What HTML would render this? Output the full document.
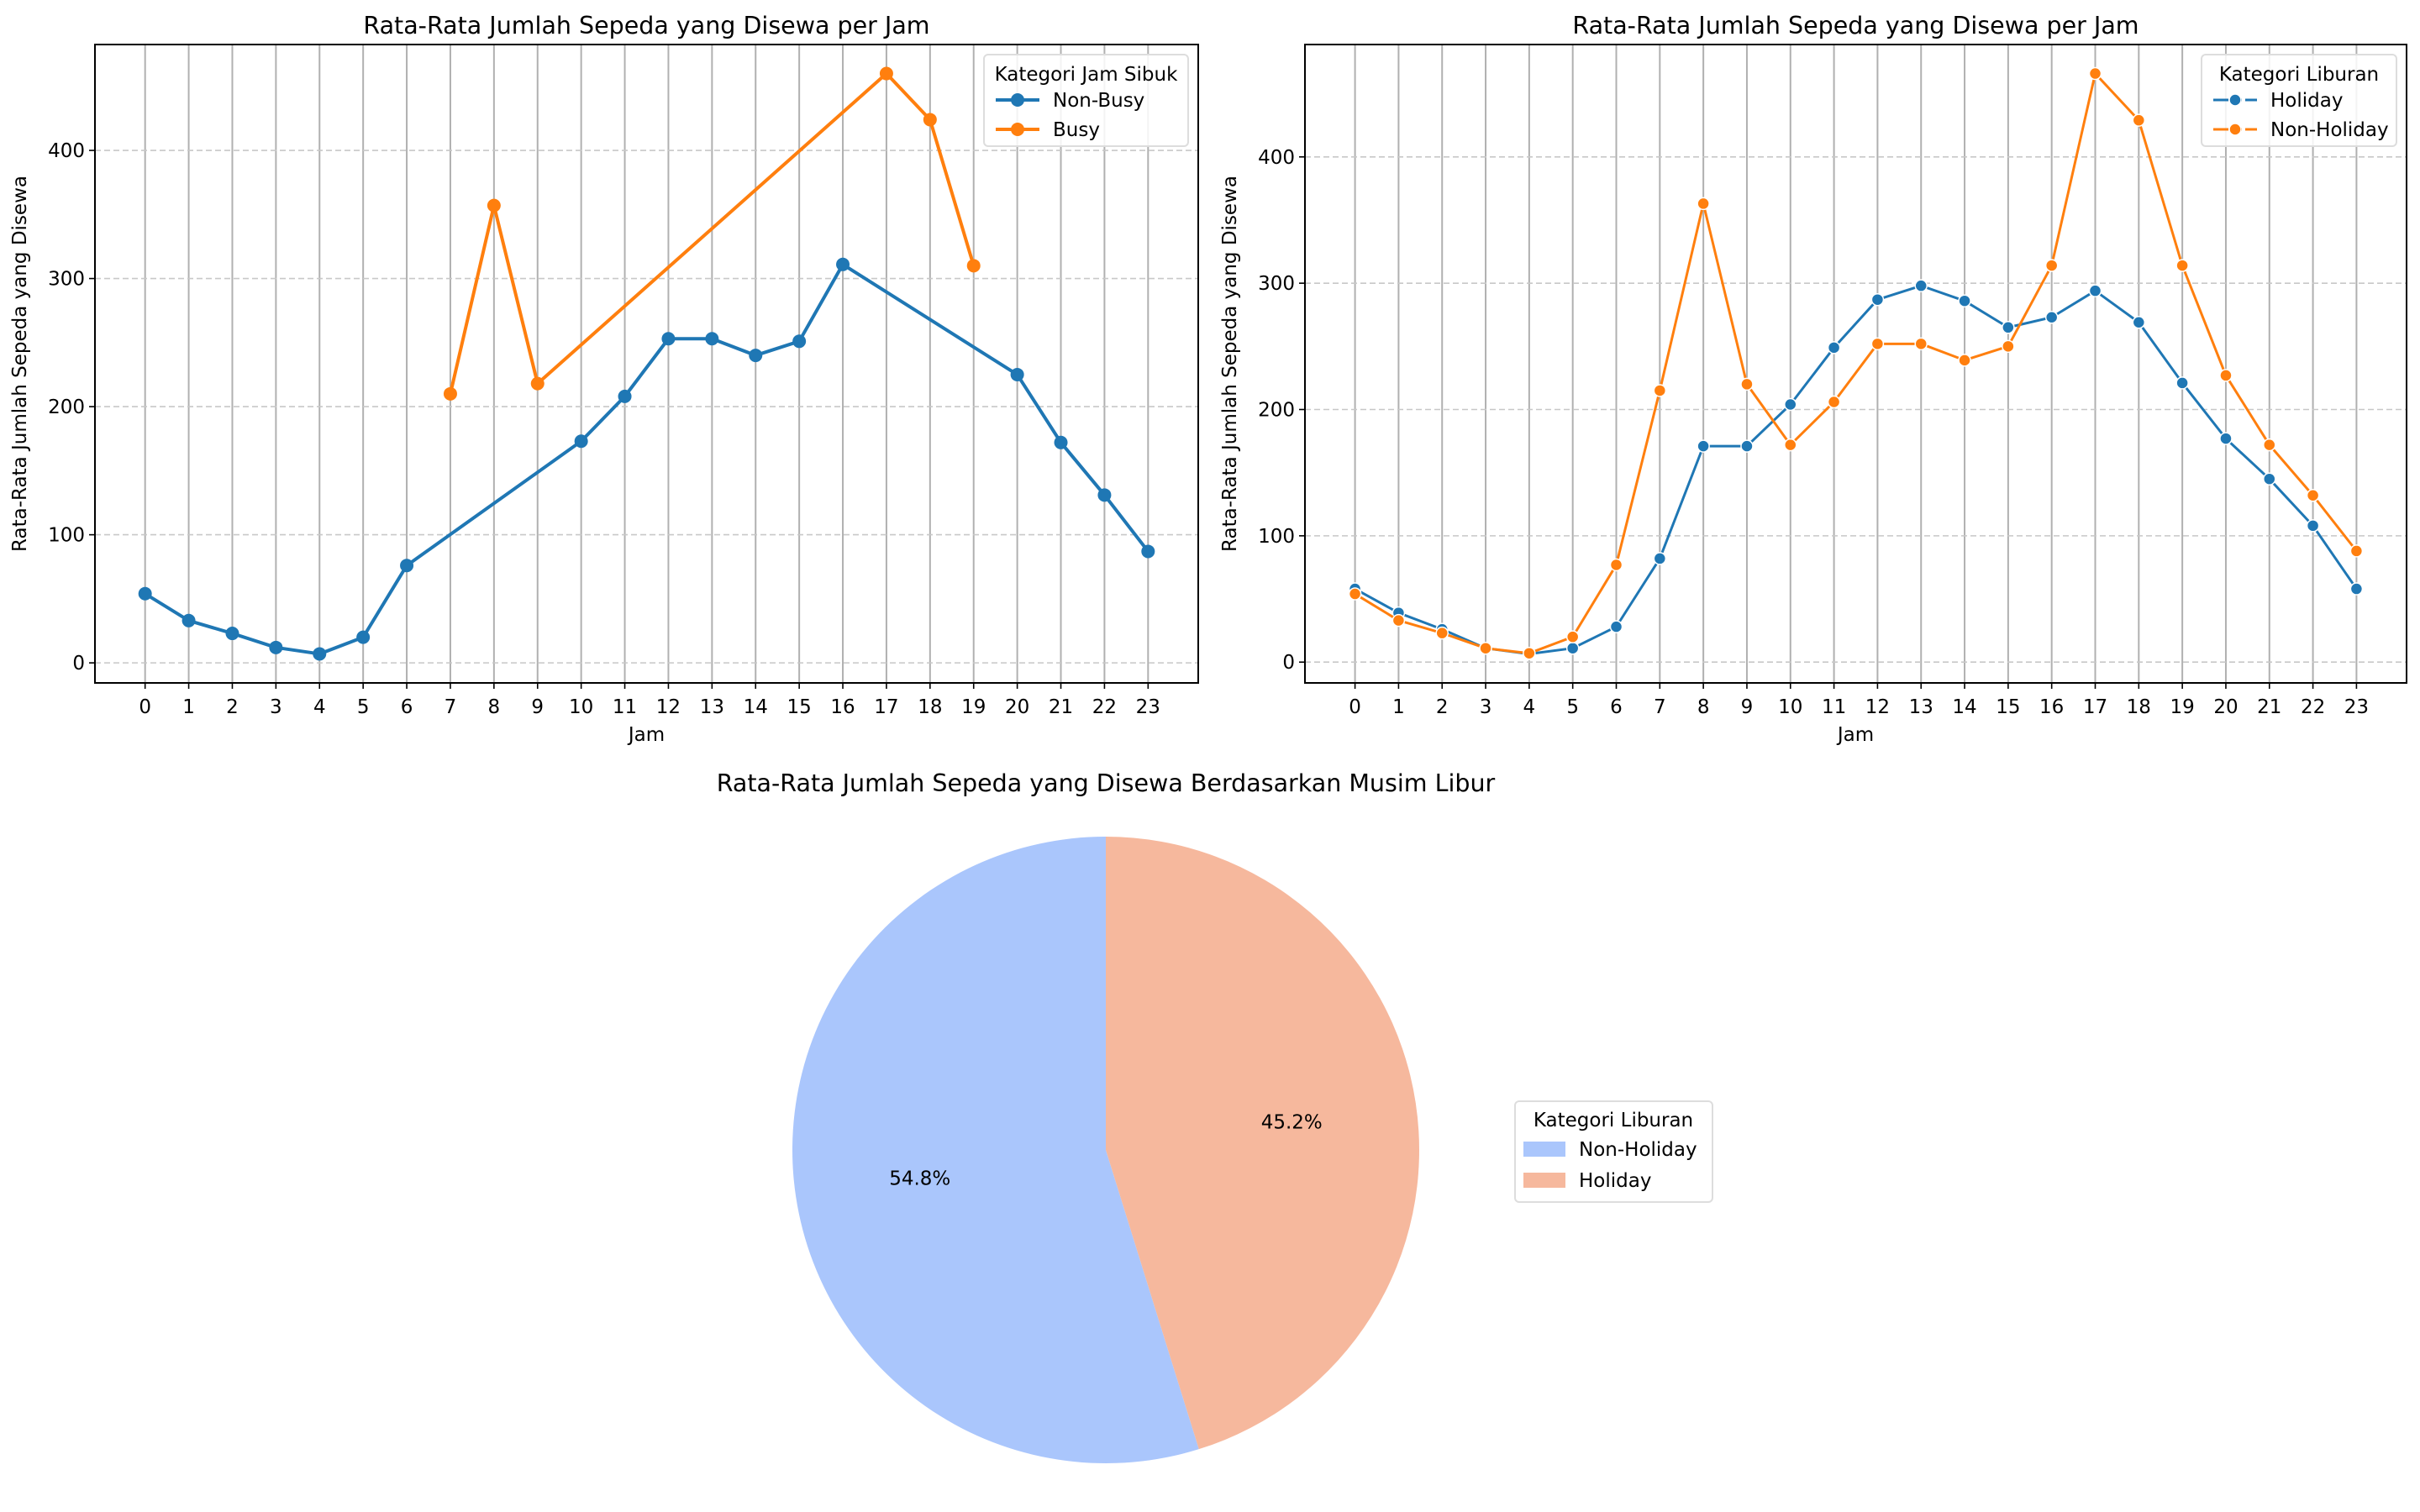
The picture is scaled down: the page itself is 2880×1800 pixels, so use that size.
<!DOCTYPE html>
<html><head><meta charset="utf-8"><style>
html,body{margin:0;padding:0;background:#fff;}
svg{display:block;font-family:"DejaVu Sans","Liberation Sans",sans-serif;}
</style></head><body>
<svg id="fig" width="2880" height="1800" viewBox="0 0 2880 1800" xmlns="http://www.w3.org/2000/svg"></svg>
<script>
const hours = [0,1,2,3,4,5,6,7,8,9,10,11,12,13,14,15,16,17,18,19,20,21,22,23];
const nonBusyHours = [0,1,2,3,4,5,6,10,11,12,13,14,15,16,20,21,22,23];
const nonBusyValues = [54,33,23,12,7,20,76,173,208,253,253,240,251,311,225,172,131,87];
const busyHours = [7,8,9,17,18,19];
const busyValues = [210,357,218,460,424,310];
const holidayValues = [58,39,26,11,6.5,11,28,82,171,171,204,249,287,298,286,265,273,294,269,221,177,145,108,58];
const nonHolidayValues = [54,33,23,11,7,20,77,215,363,220,172,206,252,252,239,250,314,466,429,314,227,172,132,88];
const yTicks = [0,100,200,300,400];
const pieLabels = ["Non-Holiday","Holiday"];
const pieValues = [54.8,45.2];
const pieColors = ["#aac6fc","#f6b89d"];

const FS=23, TFS=28.5;
const NS="http://www.w3.org/2000/svg";
const fig=document.getElementById('fig');
function mk(tag,attrs,parent){const e=document.createElementNS(NS,tag);for(const k in attrs)e.setAttribute(k,attrs[k]);(parent||fig).appendChild(e);return e;}
function txt(s,attrs,parent){const e=mk('text',attrs,parent);e.textContent=s;return e;}

function drawLinePanel(cfg){
  const g=mk('g',{});
  
  
  const L=cfg.left,R=cfg.right,T=53,B=813;
  const xmin=-1.15,xmax=24.15;
  const allVals=cfg.series.reduce((a,s)=>a.concat(s.values),[]);
  const vmin=Math.min(...allVals),vmax=Math.max(...allVals),pad=(vmax-vmin)*0.05;
  const ymin=vmin-pad,ymax=vmax+pad;
  const X=h=>L+(h-xmin)/(xmax-xmin)*(R-L);
  const Y=v=>B-(v-ymin)/(ymax-ymin)*(B-T);
  hours.forEach(h=>{const l=mk('line',{x1:X(h),x2:X(h),y1:T,y2:B,stroke:'#b0b0b0','stroke-width':2},g);
    });
  yTicks.forEach(v=>{const l=mk('line',{x1:L,x2:R,y1:Y(v),y2:Y(v),stroke:'#c8c8c8','stroke-width':1.6,'stroke-dasharray':'7,4'},g);
    });
  cfg.series.forEach(s=>{
    const pts=s.x.map((h,i)=>X(h)+','+Y(s.values[i])).join(' ');
    const pl=mk('polyline',{points:pts,fill:'none',stroke:s.color,'stroke-width':cfg.lw,'stroke-linejoin':'round'},g);
    
    s.x.forEach((h,i)=>{const c=mk('circle',{cx:X(h),cy:Y(s.values[i]),r:cfg.mr,fill:s.color,stroke:cfg.edge?'#fff':s.color,'stroke-width':cfg.edge?1.5:0},g);
      });
  });
  const fr=mk('rect',{x:L,y:T,width:R-L,height:B-T,fill:'none',stroke:'#000','stroke-width':2},g);
  
  hours.forEach(h=>{mk('line',{x1:X(h),x2:X(h),y1:B,y2:B+7,stroke:'#000','stroke-width':1.6},g);
    const t=txt(String(h),{x:X(h),y:B+36,'font-size':FS,'text-anchor':'middle',fill:'#000'},g);
    });
  yTicks.forEach(v=>{mk('line',{x1:L-7,x2:L,y1:Y(v),y2:Y(v),stroke:'#000','stroke-width':1.6},g);
    const t=txt(String(v),{x:L-12,y:Y(v)+8,'font-size':FS,'text-anchor':'end',fill:'#000'},g);
    });
  const tt=txt('Rata-Rata Jumlah Sepeda yang Disewa per Jam',{x:(L+R)/2,y:40,'font-size':TFS,'text-anchor':'middle'},g);
  
  const xl=txt('Jam',{x:(L+R)/2,y:882,'font-size':FS,'text-anchor':'middle'},g);
  
  const yl=txt('Rata-Rata Jumlah Sepeda yang Disewa',{x:0,y:0,'font-size':FS,'text-anchor':'middle',transform:`translate(${L-82},${(T+B)/2}) rotate(-90)`},g);
  
  const lg=mk('g',{},g);
  
  const lw=cfg.legendW,lx=R-12-lw,ly=65;
  mk('rect',{x:lx,y:ly,width:lw,height:109,rx:5,fill:'#fff','fill-opacity':0.85,stroke:'#ddd','stroke-width':2},lg);
  txt(cfg.legendTitle,{x:lx+lw/2,y:ly+31,'font-size':FS,'text-anchor':'middle'},lg);
  cfg.series.forEach((s,i)=>{const yy=ly+54+i*35;
    const e=mk('g',{},lg);
    mk('line',{x1:lx+14,x2:lx+66,y1:yy,y2:yy,stroke:s.color,'stroke-width':cfg.lw,'stroke-dasharray':cfg.edge?'18,4,12,4,18':'none'},e);
    mk('circle',{cx:lx+40,cy:yy,r:cfg.mr,fill:s.color,stroke:cfg.edge?'#fff':s.color,'stroke-width':cfg.edge?1.5:0},e);
    txt(s.label,{x:lx+82,y:yy+8,'font-size':FS},e);});
}

drawLinePanel({name:'busy-hour-chart',left:113,right:1426,lw:4,mr:8,edge:false,legendTitle:'Kategori Jam Sibuk',legendW:243,
  series:[{key:'non-busy',label:'Non-Busy',color:'#1f77b4',x:nonBusyHours,values:nonBusyValues},
          {key:'busy',label:'Busy',color:'#ff7f0e',x:busyHours,values:busyValues}]});
drawLinePanel({name:'holiday-hour-chart',left:1553,right:2864,lw:3,mr:7,edge:true,legendTitle:'Kategori Liburan',legendW:232,
  series:[{key:'holiday',label:'Holiday',color:'#1f77b4',x:hours,values:holidayValues},
          {key:'non-holiday',label:'Non-Holiday',color:'#ff7f0e',x:hours,values:nonHolidayValues}]});

const pg=mk('g',{});


const cx=1316,cy=1369,r=373;
const total=pieValues.reduce((a,b)=>a+b,0);
let ang=90;
pieValues.forEach((v,i)=>{
  const sweep=v/total*360,a0=ang*Math.PI/180,a1=(ang+sweep)*Math.PI/180;
  const x0=cx+r*Math.cos(a0),y0=cy-r*Math.sin(a0),x1=cx+r*Math.cos(a1),y1=cy-r*Math.sin(a1);
  const p=mk('path',{d:`M${cx},${cy} L${x0},${y0} A${r},${r} 0 ${sweep>180?1:0} 0 ${x1},${y1} Z`,fill:pieColors[i]},pg);
  
  
  const am=(ang+sweep/2)*Math.PI/180;
  const t=txt(v.toFixed(1)+'%',{x:cx+0.6*r*Math.cos(am),y:cy-0.6*r*Math.sin(am)+8,'font-size':FS,'text-anchor':'middle'},pg);
  
  
  ang+=sweep;
});
const pt=txt('Rata-Rata Jumlah Sepeda yang Disewa Berdasarkan Musim Libur',{x:cx,y:942,'font-size':TFS,'text-anchor':'middle'},pg);


const plg=mk('g',{},pg);


mk('rect',{x:1803,y:1311,width:235,height:120,rx:5,fill:'#fff',stroke:'#ddd','stroke-width':2},plg);
txt('Kategori Liburan',{x:1920,y:1341,'font-size':FS,'text-anchor':'middle'},plg);
pieLabels.forEach((lab,i)=>{const yy=1368+i*37;
  const e=mk('g',{},plg);
  
  
  mk('rect',{x:1813,y:yy-9,width:50,height:18,fill:pieColors[i]},e);
  txt(lab,{x:1879,y:yy+8,'font-size':FS},e);});
</script>
</body></html>
